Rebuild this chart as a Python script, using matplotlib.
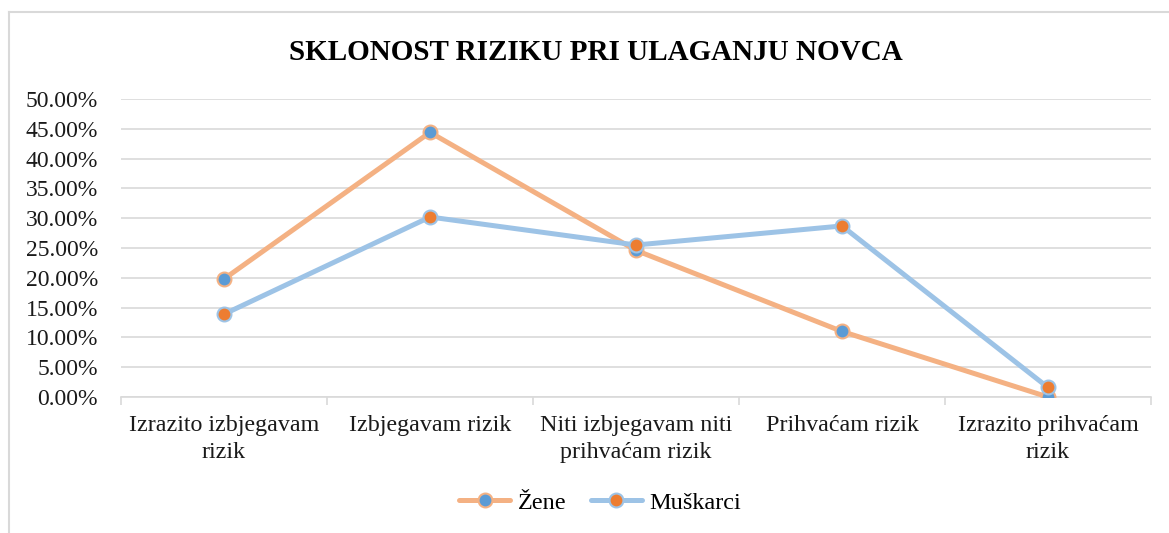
import matplotlib
matplotlib.use("Agg")
import matplotlib.pyplot as plt
from matplotlib.lines import Line2D
from matplotlib.ticker import FixedLocator, FuncFormatter

categories = ["Izrazito izbjegavam\nrizik", "Izbjegavam rizik", "Niti izbjegavam niti\nprihvaćam rizik",
              "Prihvaćam rizik", "Izrazito prihvaćam\nrizik"]
zene = [19.8, 44.4, 24.6, 11.0, 0.0]
muskarci = [13.9, 30.2, 25.5, 28.7, 1.6]
yticks = [0, 5, 10, 15, 20, 25, 30, 35, 40, 45, 50]

plt.rcParams['font.family'] = ['Liberation Serif', 'DejaVu Serif']

W, H = 1169, 533
fig = plt.figure(figsize=(W / 100, H / 100), dpi=100)
ax = fig.add_axes([121 / W, 1 - 397 / H, (1151 - 121) / W, (397 - 99) / H])

# outer chart border (left and top)
fig.add_artist(Line2D([8.5 / W, 8.5 / W], [0, 1 - 11.5 / H], color='#D9D9D9', lw=1.5,
                      transform=fig.transFigure))
fig.add_artist(Line2D([8.5 / W, 1], [1 - 11.5 / H, 1 - 11.5 / H], color='#D9D9D9', lw=1.5,
                      transform=fig.transFigure))

x = list(range(len(categories)))
ax.plot(x, zene, color='#F4B183', lw=3.6, marker='o', markersize=10,
        markerfacecolor='#5B9BD5', markeredgecolor='#F4B183', markeredgewidth=1.5,
        label='Žene', zorder=3, solid_capstyle='round')
ax.plot(x, muskarci, color='#9DC3E6', lw=3.6, marker='o', markersize=10,
        markerfacecolor='#ED7D31', markeredgecolor='#9DC3E6', markeredgewidth=1.5,
        label='Muškarci', zorder=3, solid_capstyle='round')

ax.set_xlim(-0.5, len(categories) - 0.5)
ax.set_ylim(0, 50)
ax.set_yticks(yticks)
ax.yaxis.set_major_formatter(FuncFormatter(lambda v, p: f"{v:.2f}%"))
ax.grid(axis='y', color='#D9D9D9', lw=1.2)
ax.set_axisbelow(True)
for s in ['top', 'right', 'left']:
    ax.spines[s].set_visible(False)
ax.spines['bottom'].set_color('#D9D9D9')
ax.spines['bottom'].set_linewidth(1.2)
ax.tick_params(axis='y', length=0, labelsize=17, pad=16.5, labelcolor='#1a1a1a')

ax.set_xticks(x)
ax.set_xticklabels(categories, fontsize=17.3, linespacing=1.35, color='#1a1a1a')
ax.tick_params(axis='x', which='major', length=0, pad=13)
ax.xaxis.set_minor_locator(FixedLocator([i - 0.5 for i in range(len(categories) + 1)]))
ax.tick_params(axis='x', which='minor', length=6, color='#D9D9D9', width=1.2)

fig.text(596 / W, 1 - 52 / H, "SKLONOST RIZIKU PRI ULAGANJU NOVCA", ha='center', va='center',
         fontsize=21, fontweight='bold')

leg = ax.legend(loc='center', bbox_to_anchor=(600 / W, 1 - 503 / H), bbox_transform=fig.transFigure,
                ncol=2, frameon=False, fontsize=17.5, handlelength=2.1, columnspacing=1.0,
                handletextpad=0.3)

fig.savefig("out.png", dpi=100)
